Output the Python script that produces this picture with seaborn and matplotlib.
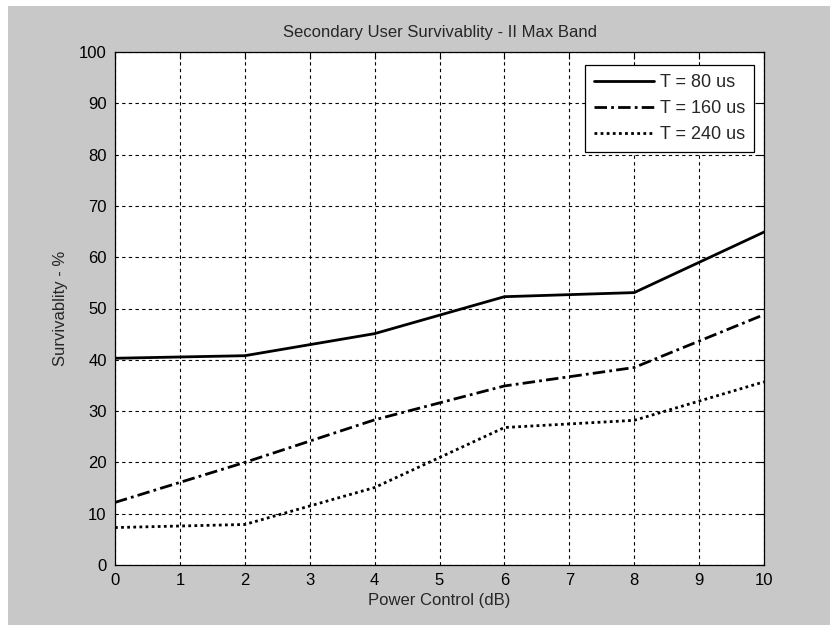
import matplotlib
matplotlib.use("Agg")
import matplotlib.pyplot as plt
from matplotlib.patches import Rectangle
import seaborn as sns
import pandas as pd

power_db = [0, 2, 4, 6, 8, 10]
surv_80 = [40.3, 40.8, 45.1, 52.3, 53.1, 64.9]
surv_160 = [12.2, 20.0, 28.3, 34.9, 38.5, 48.8]
surv_240 = [7.3, 7.9, 15.1, 26.8, 28.2, 35.7]
series_labels = ["T = 80 us", "T = 160 us", "T = 240 us"]

sns.set_style("white")
plt.rcParams["font.family"] = ["Liberation Sans", "DejaVu Sans"]

fig = plt.figure(figsize=(8.3, 6.25), dpi=100)
fig.patch.set_facecolor("white")
fig.add_artist(Rectangle((8 / 830, 0), 1, 1 - 6 / 625, transform=fig.transFigure,
                         facecolor="#c8c8c8", edgecolor="none", zorder=-10))

ax = fig.add_axes([115 / 830, 60 / 625, 649 / 830, 513 / 625])
ax.set_facecolor("white")

styles = ["-", (0, (4.5, 1.5, 1, 1.5)), (0, (1, 1.2))]
for vals, lab, ls in zip([surv_80, surv_160, surv_240], series_labels, styles):
    df = pd.DataFrame({"x": power_db, "y": vals})
    sns.lineplot(data=df, x="x", y="y", ax=ax, color="black", linewidth=2,
                 linestyle=ls, label=lab)

ax.set_xlim(0, 10)
ax.set_ylim(0, 100)
ax.set_xticks(range(0, 11))
ax.set_yticks(range(0, 101, 10))
ax.grid(True, color="black", linestyle=(0, (3, 3)), linewidth=0.8)
ax.tick_params(direction="in", length=5, width=0.8, top=True, right=True,
               labelsize=12, colors="black")
ax.tick_params(axis="x", pad=6)
ax.tick_params(axis="y", pad=6)
for s in ax.spines.values():
    s.set_color("black")
    s.set_linewidth(0.9)

ax.set_title("Secondary User Survivablity - II Max Band", fontsize=12, pad=11)
ax.set_xlabel("Power Control (dB)", fontsize=12, labelpad=3)
ax.set_ylabel("Survivablity - %", fontsize=12, labelpad=8)

leg = ax.legend(loc="upper right", bbox_to_anchor=(0.985, 0.975), borderaxespad=0,
                fontsize=13, frameon=True, fancybox=False, edgecolor="black",
                framealpha=1, handlelength=3.3, handletextpad=0.35,
                borderpad=0.5, labelspacing=0.5)
leg.get_frame().set_linewidth(0.9)

fig.savefig("out.png", dpi=100, facecolor=fig.get_facecolor())
